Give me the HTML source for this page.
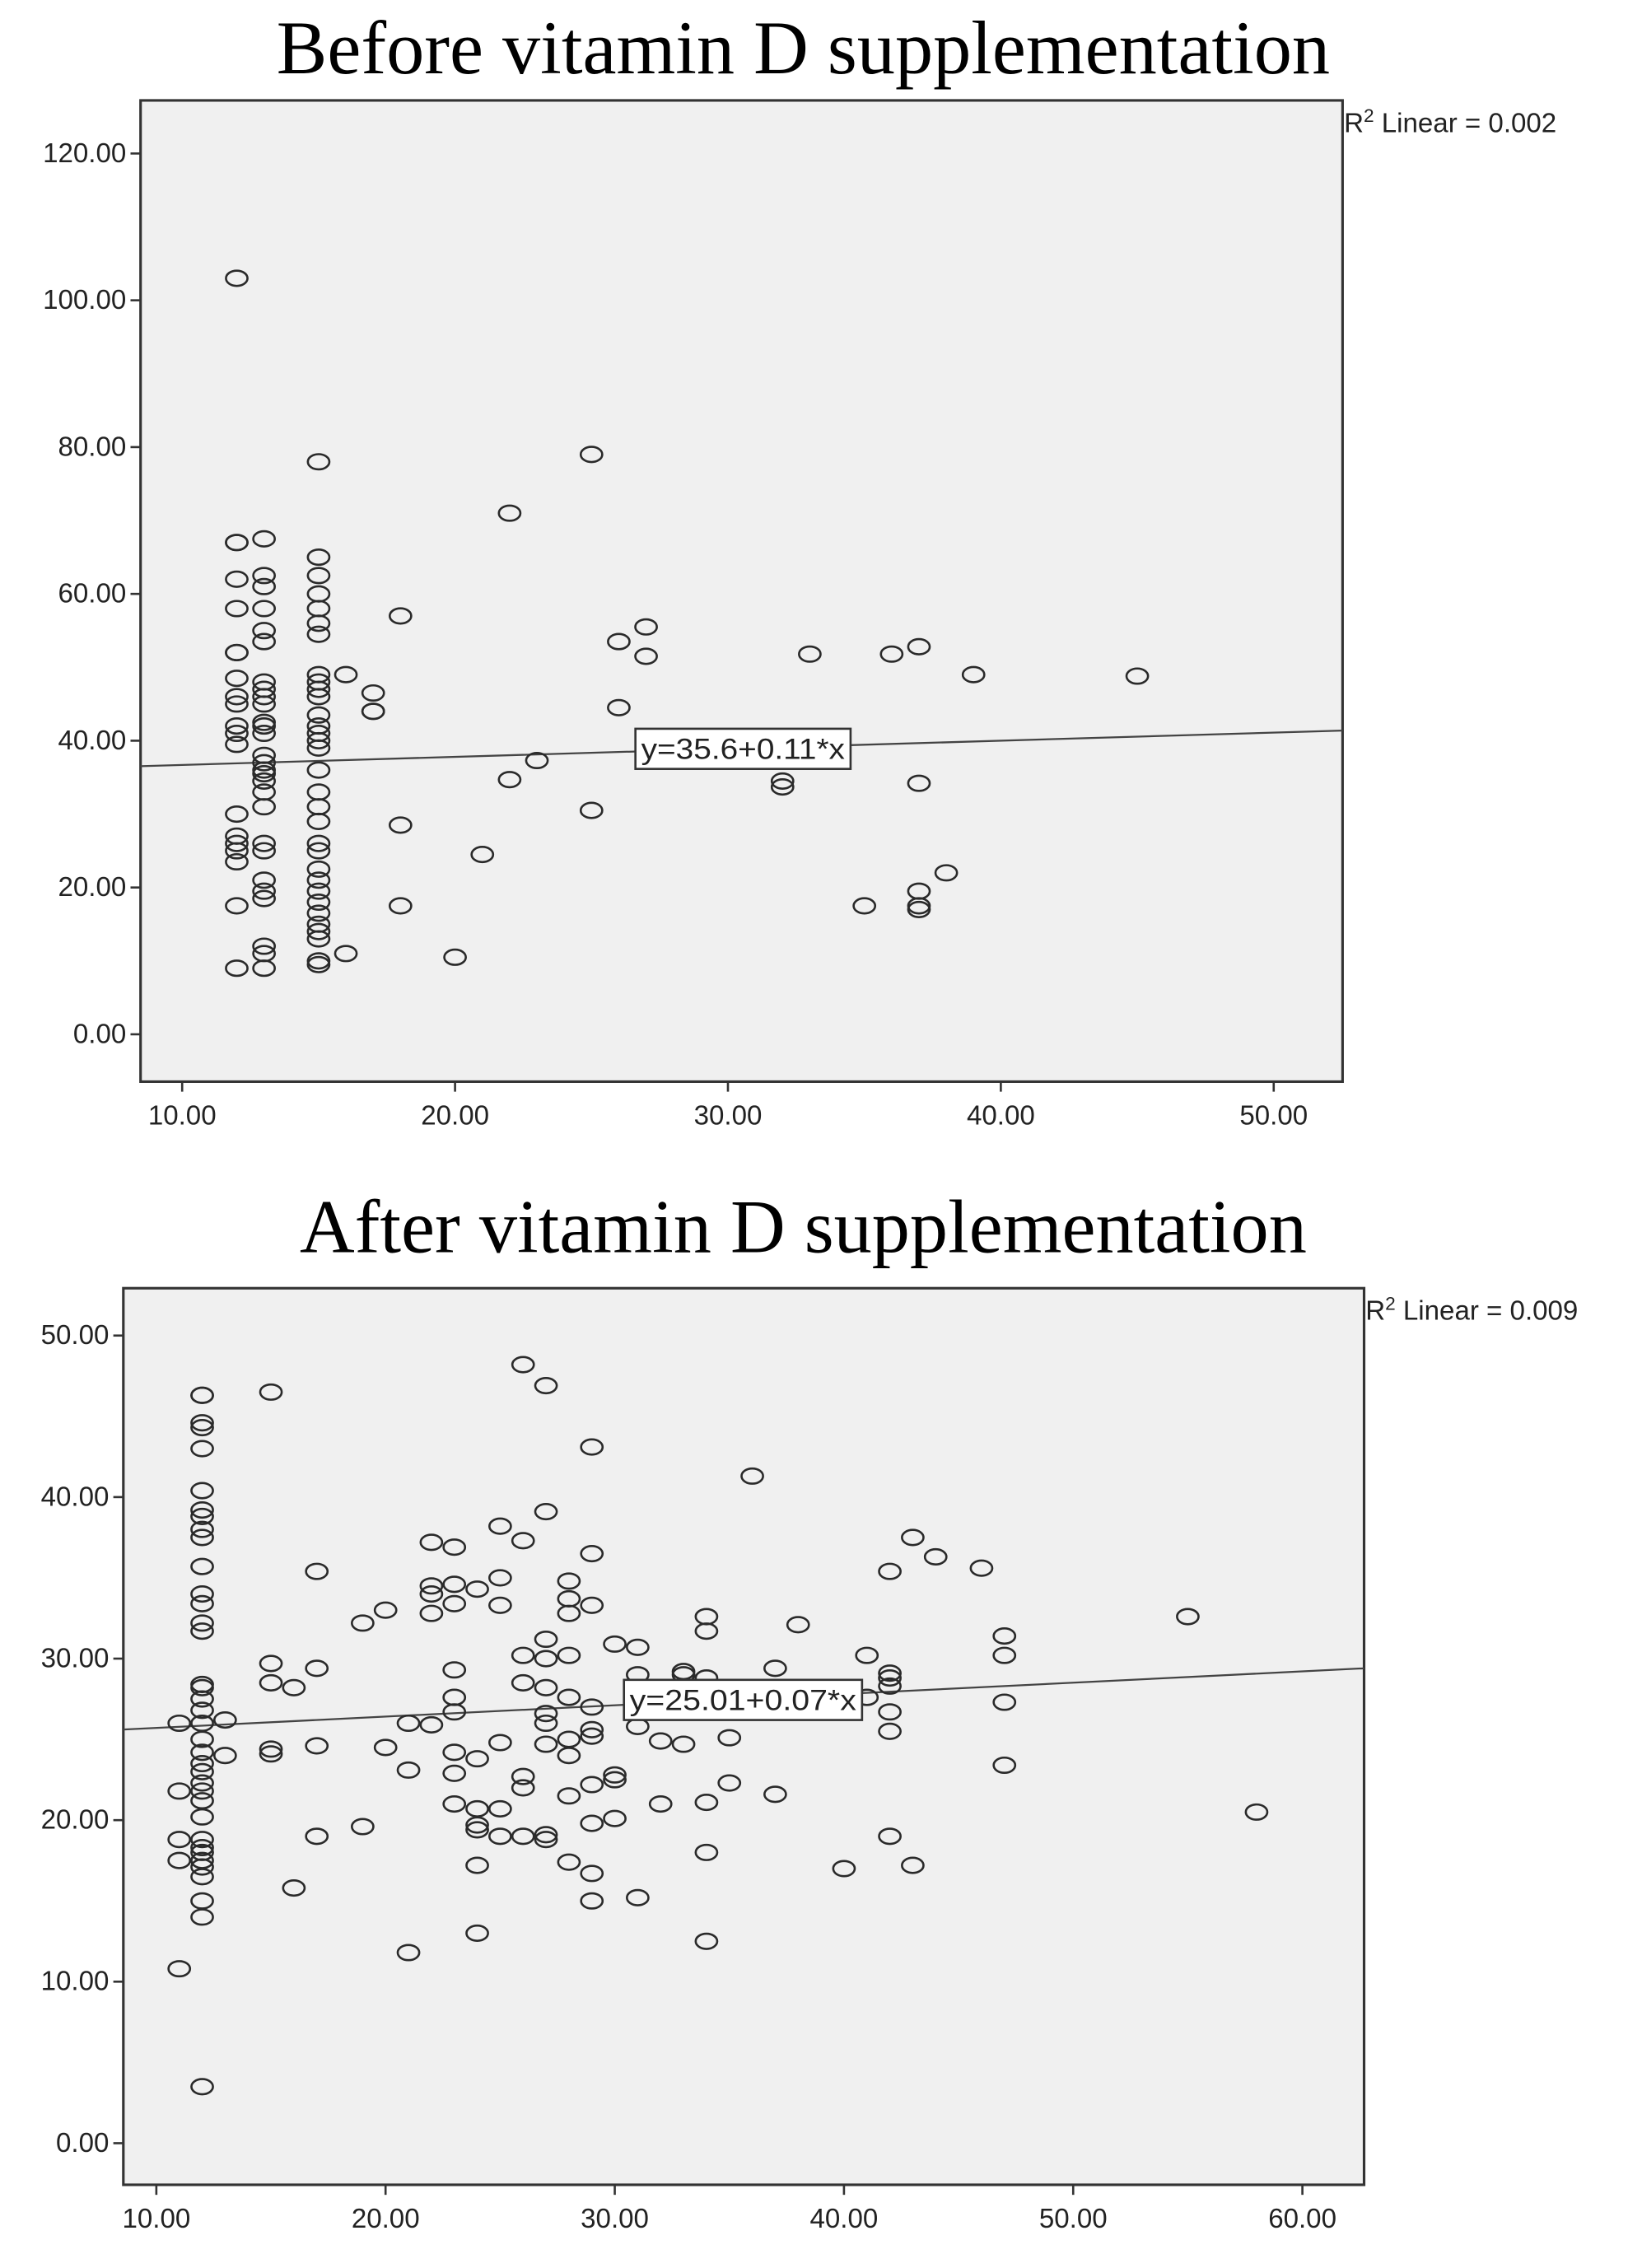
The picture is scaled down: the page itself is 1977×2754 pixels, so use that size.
<!DOCTYPE html>
<html><head><meta charset="utf-8"><style>
html,body{margin:0;padding:0;background:#fff;}
svg{display:block;}
</style></head><body>
<svg id="chart" width="1977" height="2754" viewBox="0 0 1135 1581" preserveAspectRatio="none" xmlns="http://www.w3.org/2000/svg"></svg>
<script>
// ---- Chart 1 data (Before) ----
const beforeX = [12,12,12,12,12,12,12,12,12,12,12,12,12,12,12,12,12,12,12,12,
13,13,13,13,13,13,13,13,13,13,13,13,13,13,13,13,13,13,13,13,13,13,13,13,13,13,13,13,
15,15,15,15,15,15,15,15,15,15,15,15,15,15,15,15,15,15,15,15,15,15,15,15,15,15,15,15,15,15,15,15,
16,16,17,17,17,18,18,18,20,21,22,22,23,25,25,26,26,27,27,32,32,33,35,36,37,37,37,37,37,38,39,45];
const beforeY = [103,67,67,62,58,52,52,48.5,46,45,42,41,39.5,30,27,26,25,23.5,17.5,9,
67.5,62.5,61,58,55,53.5,48,47,46,45,42.5,42,41,38,37,36,35.5,34.5,33,31,26,25,21,19.5,18.5,12,11,9,
78,65,62.5,60,58,56,54.5,49,48,47,46,43.5,42,41,40,39,36,33,31,29,26,25,22.5,21,19.5,18,16.5,15,14,13,10,9.5,
49,11,46.5,44,44,57,28.5,17.5,10.5,24.5,71,34.7,37.3,79,30.5,53.5,44.5,55.5,51.5,34.5,33.7,51.8,17.5,51.8,52.8,34.2,19.5,17.5,17,22,49,48.8];
const beforeXTicks = [10,20,30,40,50];
const beforeYTicks = [0,20,40,60,80,100,120];
const beforeFit = [35.6, 0.11];

// ---- Chart 2 data (After) ----
const afterX = [11,11,11,11,11,
12,12,12,12,12,12,12,12,12,12,12,12,12,12,12,12,12,12,12,12,12,12,12,12,12,12,12,12,12,12,12,12,12,12,12,12,12,
13,13,15,15,15,15,15,16,16,17,17,17,17,19,19,20,20,21,21,21,
22,22,22,22,22,23,23,23,23,23,23,23,23,23,24,24,24,24,24,24,24,
25,25,25,25,25,25,26,26,26,26,26,26,26,27,27,27,27,27,27,27,27,27,27,
28,28,28,28,28,28,28,28,28,29,29,29,29,29,29,29,29,29,29,30,30,30,30,31,31,31,31,32,32,33,33,33,
34,34,34,34,34,34,35,35,36,37,37,38,40,41,41,42,42,42,42,42,42,42,43,43,44,46,47,47,47,47,55,58];
const afterY = [26,21.8,18.8,17.5,10.8,
46.3,46.3,44.6,44.3,43,40.4,39.2,38.8,38,37.5,35.7,34,33.4,32.2,31.7,28.4,28.2,27.5,26.8,26,25,24.2,23.5,23,22.3,21.8,21.2,20.2,18.8,18.3,18,17.5,17.1,16.5,15,14,3.5,
26.2,24,46.5,29.7,28.5,24.4,24.1,28.2,15.8,35.4,29.4,24.6,19,32.2,19.6,33,24.5,26,23.1,11.8,
37.2,34.5,34,32.8,25.9,36.9,34.6,33.4,29.3,27.6,26.7,24.2,22.9,21,34.3,23.8,20.7,19.7,19.4,17.2,13,
38.2,35,33.3,24.8,20.7,19,48.2,37.3,30.2,28.5,22.7,22,19,46.9,39.1,31.2,30,28.2,26.6,26,24.7,19.1,18.8,
34.8,33.7,32.8,30.2,27.6,25,24,21.5,17.4,43.1,36.5,33.3,27,25.6,25.2,22.2,19.8,16.7,15,30.9,22.8,22.5,20.1,30.7,29,25.8,15.2,24.9,21,29.2,29,24.7,
32.6,31.7,28.8,21.1,18,12.5,25.1,22.3,41.3,29.4,21.6,32.1,17,30.2,27.6,35.4,29.1,28.8,28.3,26.7,25.5,19,37.5,17.2,36.3,35.6,31.4,30.2,27.3,23.4,32.6,20.5];
const afterXTicks = [10,20,30,40,50,60];
const afterYTicks = [0,10,20,30,40,50];
const afterFit = [25.01, 0.07];

const NS = "http://www.w3.org/2000/svg";
const svg = document.getElementById('chart');
function mk(tag, attrs, parent){const e=document.createElementNS(NS,tag);for(const k in attrs)e.setAttribute(k,attrs[k]);(parent||svg).appendChild(e);return e;}

function drawChart(cfg){
  const g = mk('g',{});
  
  
  const sx = v => cfg.px0 + (v - cfg.x0) * (cfg.px1 - cfg.px0) / (cfg.x1 - cfg.x0);
  const sy = v => cfg.py0 + (v - cfg.y0) * (cfg.py1 - cfg.py0) / (cfg.y1 - cfg.y0);
  const title = mk('text',{x:560,y:cfg.titleY,'text-anchor':'middle','font-family':'Liberation Serif, serif','font-size':53,fill:'#000'},g);
  title.textContent = cfg.title;
  
  
  const bg = mk('rect',{x:cfg.L,y:cfg.T,width:cfg.R-cfg.L,height:cfg.B-cfg.T,fill:'#f0f0f0',stroke:'#333','stroke-width':1.8},g);
  
  
  cfg.yt.forEach(v=>{
    const y=sy(v);
    mk('line',{x1:cfg.L-7,x2:cfg.L,y1:y,y2:y,stroke:'#333','stroke-width':1.5},g);
    const t=mk('text',{x:cfg.L-10,y:y+6,'text-anchor':'end','font-family':'Liberation Sans, sans-serif','font-size':19,fill:'#222'},g);
    t.textContent=v.toFixed(2);
    
    
  });
  cfg.xt.forEach(v=>{
    const x=sx(v);
    mk('line',{x1:x,x2:x,y1:cfg.B,y2:cfg.B+7,stroke:'#333','stroke-width':1.5},g);
    const t=mk('text',{x:x,y:cfg.B+30,'text-anchor':'middle','font-family':'Liberation Sans, sans-serif','font-size':19,fill:'#222'},g);
    t.textContent=v.toFixed(2);
    
    
  });
  const xl = cfg.x0 + (cfg.L - cfg.px0) * (cfg.x1 - cfg.x0) / (cfg.px1 - cfg.px0);
  const xr = cfg.x0 + (cfg.R - cfg.px0) * (cfg.x1 - cfg.x0) / (cfg.px1 - cfg.px0);
  const fit = mk('line',{x1:cfg.L,x2:cfg.R,y1:sy(cfg.fit[0]+cfg.fit[1]*xl),y2:sy(cfg.fit[0]+cfg.fit[1]*xr),stroke:'#444','stroke-width':1.3},g);
  
  
  cfg.xs.forEach((xv,i)=>{
    const c=mk('ellipse',{cx:sx(xv),cy:sy(cfg.ys[i]),rx:7.5,ry:5.3,fill:'none',stroke:'#2a2a2a','stroke-width':1.5},g);
    
    
  });
  const bx = mk('rect',{x:cfg.boxX,y:cfg.boxY,width:cfg.boxW,height:28,fill:'#fff',stroke:'#333','stroke-width':1.5},g);
  
  
  const eq = mk('text',{x:cfg.boxX+cfg.boxW/2,y:cfg.boxY+21,'text-anchor':'middle','font-family':'Liberation Sans, sans-serif','font-size':20,fill:'#222',textLength:cfg.boxW-8,lengthAdjust:'spacingAndGlyphs'},g);
  eq.textContent = cfg.eq;
  
  
  const r2 = mk('text',{x:cfg.R+1,y:cfg.T+22,'font-family':'Liberation Sans, sans-serif','font-size':19,fill:'#222'},g);
  r2.innerHTML = 'R<tspan dy="-7" font-size="13">2</tspan><tspan dy="7"> Linear = '+cfg.r2+'</tspan>';
  
  
}

drawChart({name:'before-chart',title:'Before vitamin D supplementation',titleY:51,
  L:98,T:70,R:936,B:754,px0:127,px1:888,x0:10,x1:50,py0:721,py1:107,y0:0,y1:120,
  xs:beforeX,ys:beforeY,xt:beforeXTicks,yt:beforeYTicks,fit:beforeFit,
  eq:'y=35.6+0.11*x',boxX:443,boxY:508,boxW:150,r2:'0.002'});
drawChart({name:'after-chart',title:'After vitamin D supplementation',titleY:873,
  L:86,T:898,R:951,B:1523,px0:109,px1:908,x0:10,x1:60,py0:1494,py1:931,y0:0,y1:50,
  xs:afterX,ys:afterY,xt:afterXTicks,yt:afterYTicks,fit:afterFit,
  eq:'y=25.01+0.07*x',boxX:435,boxY:1171,boxW:166,r2:'0.009'});
</script>
</body></html>
